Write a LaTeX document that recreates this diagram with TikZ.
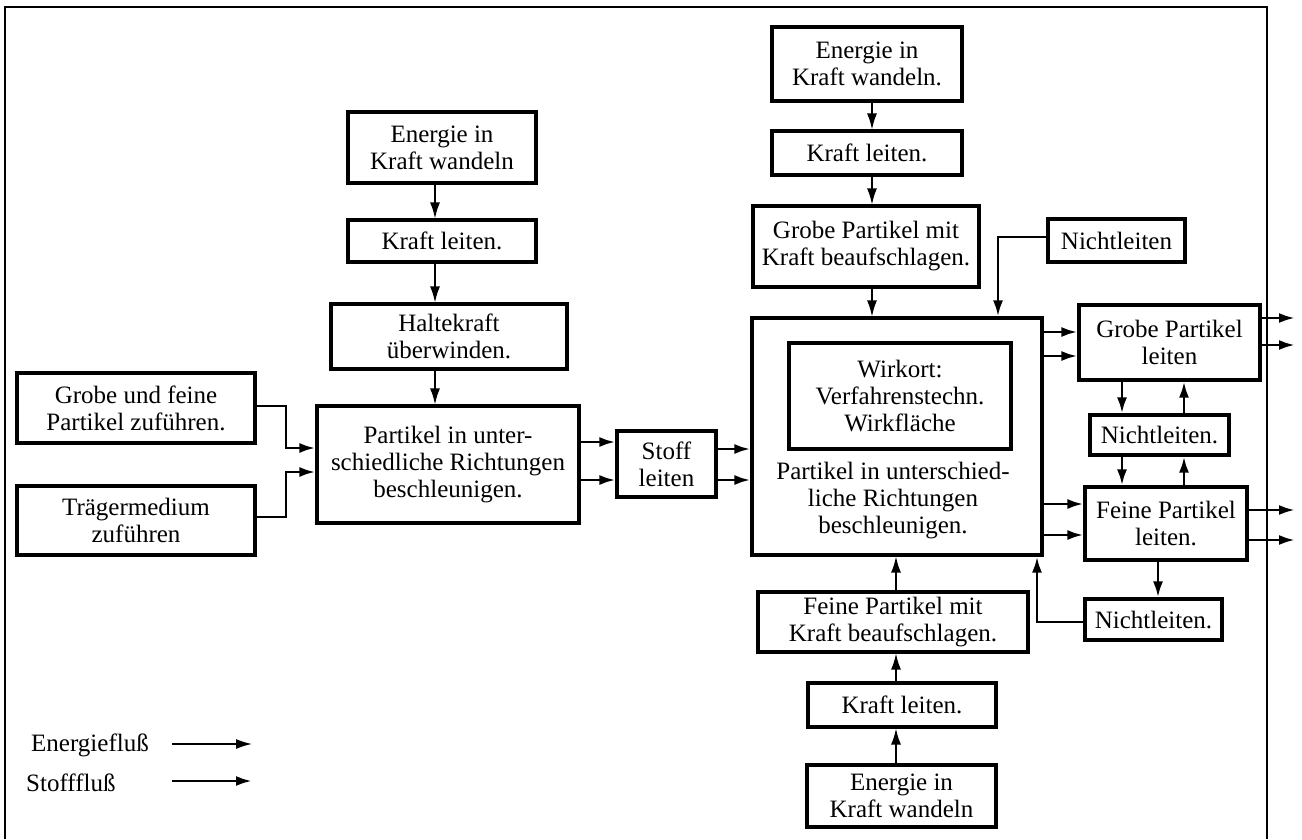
\documentclass[tikz,border=0pt]{standalone}
\usepackage{fontspec}
\setmainfont{Liberation Serif}
\usetikzlibrary{arrows.meta}
\begin{document}
\begin{tikzpicture}[x=1pt,y=-1pt,
  txt/.style={font=\fontsize{25}{27}\selectfont},
  box/.style={draw,line width=3.2pt,inner sep=0pt,align=center,txt},
  energy/.style={line width=1.5pt,-{Latex[length=16pt,width=10pt]}},
  stoff/.style={line width=2.8pt,-{Latex[length=16pt,width=10pt]}},
  frame/.style={line width=1.8pt}]
\useasboundingbox (0,0) rectangle (1302,839);
% frame
\draw[frame] (5,839) -- (5,7) -- (1267,7) -- (1267,839);

% left column
\node[box,minimum width=188pt,minimum height=71pt] (E1) at (442,147.5) {Energie in\\Kraft wandeln};
\node[box,minimum width=188pt,minimum height=42pt] (K1) at (442,241) {Kraft leiten.};
\node[box,minimum width=236pt,minimum height=65pt] (H) at (449,336.5) {Haltekraft\\überwinden.};
\node[box,minimum width=262pt,minimum height=117pt] (P1) at (448,464.5) {Partikel in unter-\\schiedliche Richtungen\\beschleunigen.};
\node[box,minimum width=238pt,minimum height=70pt] (GF) at (136,408) {Grobe und feine\\Partikel zuführen.};
\node[box,minimum width=238pt,minimum height=69pt] (TM) at (136,520.5) {Trägermedium\\zuführen};
\node[box,minimum width=99pt,minimum height=66pt] (S) at (666.5,464) {Stoff\\leiten};

% right column
\node[box,minimum width=190pt,minimum height=74pt] (E2) at (867,64) {Energie in\\Kraft wandeln.};
\node[box,minimum width=190pt,minimum height=44pt] (K2) at (867,153) {Kraft leiten.};
\node[box,minimum width=226pt,minimum height=81pt] (G2) at (866,246.5) {Grobe Partikel mit\\Kraft beaufschlagen.};
\node[box,minimum width=137pt,minimum height=43pt] (N1) at (1116.5,240.5) {Nichtleiten};
\node[box,minimum width=290pt,minimum height=237pt] (P2) at (897,436.5) {};
\node[box,minimum width=222pt,minimum height=106pt] (W) at (900,396) {Wirkort:\\Verfahrenstechn.\\Wirkfläche};
\node[txt,align=center,inner sep=0pt] (P2t) at (893,501) {Partikel in unterschied-\\liche Richtungen\\beschleunigen.};
\node[box,minimum width=181pt,minimum height=75pt] (GP) at (1169.5,342.5) {Grobe Partikel\\leiten};
\node[box,minimum width=139pt,minimum height=40pt] (N2) at (1159.5,435) {Nichtleiten.};
\node[box,minimum width=162pt,minimum height=73pt] (FP) at (1166,523.5) {Feine Partikel\\leiten.};
\node[box,minimum width=137pt,minimum height=41pt] (N3) at (1153.5,619.5) {Nichtleiten.};
\node[box,minimum width=270pt,minimum height=60pt] (F2) at (893,622) {Feine Partikel mit\\Kraft beaufschlagen.};
\node[box,minimum width=188pt,minimum height=44pt] (K3) at (902,705) {Kraft leiten.};
\node[box,minimum width=189pt,minimum height=62pt] (E3) at (901.5,796) {Energie in\\Kraft wandeln};

% helper coordinates
\coordinate (xa) at (435,0);
\coordinate (xb) at (872,0);
\coordinate (xc) at (896,0);
\coordinate (x286) at (286,0);
\coordinate (x998) at (998,0);
\coordinate (x1037) at (1037,0);
\coordinate (x1122) at (1122,0);
\coordinate (x1184) at (1184,0);
\coordinate (x1158) at (1158,0);
\coordinate (xend) at (1295,0);
\coordinate (y406) at (0,406);
\coordinate (y448) at (0,448);
\coordinate (y517) at (0,517);
\coordinate (y472) at (0,472);
\coordinate (y442) at (0,442);
\coordinate (y480) at (0,480);
\coordinate (y449) at (0,449);
\coordinate (y237) at (0,237);
\coordinate (y332) at (0,332);
\coordinate (y356) at (0,356);
\coordinate (y318) at (0,318);
\coordinate (y345) at (0,345);
\coordinate (y504) at (0,504);
\coordinate (y535) at (0,535);
\coordinate (y510) at (0,510);
\coordinate (y540) at (0,540);
\coordinate (y622) at (0,622);

% energy flows
\draw[energy] (E1.south -| xa) -- (K1.north -| xa);
\draw[energy] (K1.south -| xa) -- (H.north -| xa);
\draw[energy] (H.south -| xa) -- (P1.north -| xa);
\draw[energy] (E2.south -| xb) -- (K2.north -| xb);
\draw[energy] (K2.south -| xb) -- (G2.north -| xb);
\draw[energy] (G2.south -| xb) -- (P2.north -| xb);
\draw[energy] (E3.north -| xc) -- (K3.south -| xc);
\draw[energy] (K3.north -| xc) -- (F2.south -| xc);
\draw[energy] (F2.north -| xc) -- (P2.south -| xc);

% material flows
\draw[stoff] (GF.east |- y406) -- (x286 |- y406) |- (P1.west |- y448);
\draw[stoff] (TM.east |- y517) -- (x286 |- y517) |- (P1.west |- y472);
\draw[stoff] (P1.east |- y442) -- (S.west |- y442);
\draw[stoff] (P1.east |- y480) -- (S.west |- y480);
\draw[stoff] (S.east |- y449) -- (P2.west |- y449);
\draw[stoff] (S.east |- y480) -- (P2.west |- y480);
\draw[stoff] (N1.west |- y237) -| (x998 |- P2.north);
\draw[stoff] (P2.east |- y332) -- (GP.west |- y332);
\draw[stoff] (P2.east |- y356) -- (GP.west |- y356);
\draw[stoff] (GP.east |- y318) -- (xend |- y318);
\draw[stoff] (GP.east |- y345) -- (xend |- y345);
\draw[stoff] (GP.south -| x1122) -- (N2.north -| x1122);
\draw[stoff] (N2.north -| x1184) -- (GP.south -| x1184);
\draw[stoff] (N2.south -| x1122) -- (FP.north -| x1122);
\draw[stoff] (FP.north -| x1184) -- (N2.south -| x1184);
\draw[stoff] (P2.east |- y504) -- (FP.west |- y504);
\draw[stoff] (P2.east |- y535) -- (FP.west |- y535);
\draw[stoff] (FP.east |- y510) -- (xend |- y510);
\draw[stoff] (FP.east |- y540) -- (xend |- y540);
\draw[stoff] (FP.south -| x1158) -- (N3.north -| x1158);
\draw[stoff] (N3.west |- y622) -| (x1037 |- P2.south);

% legend
\node[txt,anchor=west,inner sep=0pt] (le) at (31,745) {Energiefluß};
\node[txt,anchor=west,inner sep=0pt] (ls) at (26,783) {Stofffluß};
\coordinate (le1) at (172,744);
\coordinate (le2) at (252,744);
\coordinate (ls1) at (172,781);
\coordinate (ls2) at (252,781);
\draw[energy] (le1) -- (le2);
\draw[stoff] (ls1) -- (ls2);
\end{tikzpicture}
\end{document}
